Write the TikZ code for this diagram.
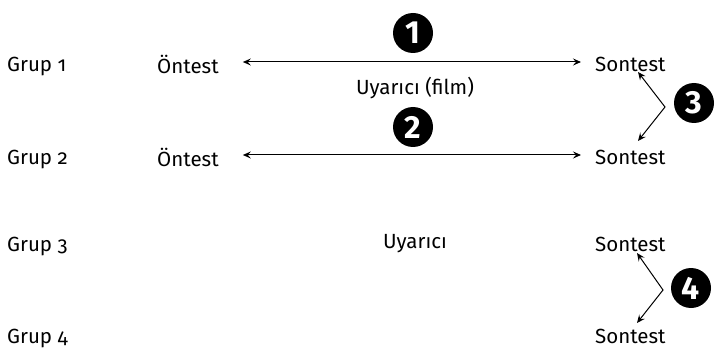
\documentclass[tikz,border=0pt]{standalone}
\usepackage{fontspec}
\setmainfont{Fira Sans}[Numbers=OldStyle]
\newfontfamily\numfont{Fira Sans}[Numbers=Lining,UprightFont=* Bold]
\usetikzlibrary{arrows.meta}
\begin{document}
\begin{tikzpicture}[x=1pt,y=-1pt,
  lbl/.style={font=\fontsize{20.5}{24}\selectfont,inner sep=0pt,anchor=west},
  mid/.style={font=\fontsize{20.5}{24}\selectfont,inner sep=0pt},
  badge/.style={circle,fill=black,text=white,minimum size=40pt,inner sep=0pt,font=\numfont\fontsize{32}{34}\selectfont},
  conn/.style={line width=1pt,{Stealth[length=8pt,width=7pt,inset=3pt]}-{Stealth[length=8pt,width=7pt,inset=3pt]}}]
\useasboundingbox (0,0) rectangle (715,350);
% group labels
\node[lbl] (g1) at (7,66) {Grup 1};
\node[lbl] (g2) at (7,159) {Grup 2};
\node[lbl] (g3) at (7,246) {Grup 3};
\node[lbl] (g4) at (7,338) {Grup 4};
% pretests
\node[lbl] (o1) at (157,64) {Öntest};
\node[lbl] (o2) at (157,157) {Öntest};
% posttests
\node[lbl] (s1) at (595,64) {Sontest};
\node[lbl] (s2) at (595,157) {Sontest};
\node[lbl] (s3) at (595,244) {Sontest};
\node[lbl] (s4) at (595,336) {Sontest};
% stimulus labels
\node[mid] (u1) at (415,88) {Uyarıcı (film)};
\node[mid] (u3) at (415,244) {Uyarıcı};
% badges
\node[badge] (n1) at (413,33) {1};
\node[badge] (n2) at (413,127) {2};
\node[badge] (n3) at (694,103) {3};
\node[badge] (n4) at (691,288) {4};
% horizontal connectors
\draw[conn,shorten <=24pt,shorten >=14pt] ([yshift=2pt]o1.east) -- ([yshift=2pt]s1.west);
\draw[conn,shorten <=24pt,shorten >=14pt] ([yshift=2pt]o2.east) -- ([yshift=2pt]s2.west);
% brackets
\coordinate (t3a) at (638,72);
\coordinate (a3) at (665,107);
\coordinate (t3b) at (638,141);
\draw[conn] (t3a) -- (a3) -- (t3b);
\coordinate (t4a) at (637,253);
\coordinate (a4) at (663,290);
\coordinate (t4b) at (637,323);
\draw[conn] (t4a) -- (a4) -- (t4b);
\end{tikzpicture}
\end{document}
